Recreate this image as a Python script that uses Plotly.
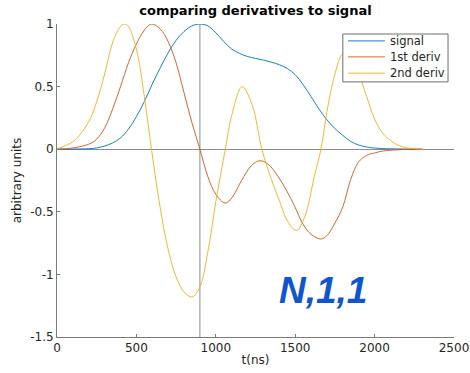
import plotly.graph_objects as go

# ---- data ----
t_signal = [0, 100, 200, 250, 300, 350, 400, 450, 500, 550, 600, 650, 700, 750, 800, 850, 900,
            950, 1000, 1050, 1100, 1150, 1200, 1250, 1300, 1350, 1400, 1450, 1500, 1550, 1600,
            1650, 1700, 1750, 1800, 1850, 1900, 1950, 2000, 2100, 2200, 2300]
signal = [0, 0.001, 0.004, 0.01, 0.025, 0.05, 0.09, 0.16, 0.26, 0.38, 0.52, 0.65, 0.77, 0.87,
          0.94, 0.985, 1.0, 0.985, 0.93, 0.86, 0.8, 0.765, 0.74, 0.725, 0.712, 0.695, 0.675,
          0.645, 0.595, 0.515, 0.42, 0.32, 0.235, 0.165, 0.11, 0.062, 0.033, 0.018, 0.009,
          0.003, 0.001, 0]

t_d1 = [0, 100, 200, 250, 300, 350, 400, 450, 500, 550, 595, 650, 700, 750, 800, 850, 900, 950,
        1000, 1058, 1100, 1162, 1225, 1277, 1330, 1393, 1450, 1498, 1550, 1600, 1662, 1700,
        1750, 1800, 1850, 1900, 1950, 2000, 2050, 2100, 2200, 2300]
deriv1 = [0, 0.01, 0.04, 0.08, 0.17, 0.32, 0.5, 0.69, 0.84, 0.95, 1.0, 0.96, 0.86, 0.69, 0.45,
          0.21, 0, -0.22, -0.36, -0.43, -0.39, -0.25, -0.13, -0.092, -0.12, -0.22, -0.34,
          -0.46, -0.6, -0.68, -0.717, -0.69, -0.59, -0.46, -0.24, -0.1, -0.05, -0.03,
          -0.015, -0.008, -0.002, 0]

t_d2 = [0, 100, 200, 250, 300, 350, 400, 427, 450, 500, 550, 595, 650, 700, 750, 800, 851, 900,
        950, 1000, 1060, 1100, 1166, 1230, 1290, 1350, 1400, 1450, 1508, 1560, 1620, 1662,
        1700, 1750, 1800, 1850, 1900, 1950, 2000, 2050, 2100, 2150, 2200, 2250, 2305]
deriv2 = [0.005, 0.06, 0.22, 0.38, 0.6, 0.85, 0.98, 1.0, 0.98, 0.8, 0.42, 0, -0.47, -0.8, -1.02,
          -1.14, -1.18, -1.1, -0.82, -0.42, 0, 0.27, 0.5, 0.35, 0, -0.24, -0.41, -0.57, -0.65,
          -0.54, -0.22, 0, 0.3, 0.6, 0.76, 0.72, 0.6, 0.42, 0.24, 0.13, 0.07, 0.03, 0.012,
          0.004, 0]

series_names = ["signal", "1st deriv", "2nd deriv"]
marker_t = 900
x_ticks = [0, 500, 1000, 1500, 2000, 2500]
y_ticks = [-1.5, -1, -0.5, 0, 0.5, 1]
y_ticktext = ["-1.5", "-1", "-0.5", "0", "0.5", "1"]
annotation_text = "N,1,1"
annotation_pos = (1674, -1.125)

colors = ["#0072BD", "#D95319", "#EDB120"]
FONT = "DejaVu Sans"
AXIS_COL = "#7a7a7a"

fig = go.Figure()
for (tx, ty), name, c in zip([(t_signal, signal), (t_d1, deriv1), (t_d2, deriv2)], series_names, colors):
    fig.add_trace(go.Scatter(x=tx, y=ty, mode="lines", name=name, showlegend=False,
                             line=dict(color=c, width=0.9, shape="spline", smoothing=1.0)))

fig.add_shape(type="line", xref="x", yref="y", x0=marker_t, x1=marker_t, y0=-1.5, y1=1,
              line=dict(color="#8c8c8c", width=1), layer="below")

fig.add_annotation(x=annotation_pos[0], y=annotation_pos[1], xref="x", yref="y",
                   text="<b><i>" + annotation_text + "</i></b>", showarrow=False,
                   font=dict(family="Liberation Sans", size=37, color="#1155CC"))

# custom legend box (matlab style)
leg_x0, leg_x1, leg_y0, leg_y1 = 0.720, 0.985, 0.815, 0.968
fig.add_shape(type="rect", xref="paper", yref="paper", x0=leg_x0, x1=leg_x1, y0=leg_y0, y1=leg_y1,
              line=dict(color="#6e6e6e", width=1), fillcolor="white", layer="above")
row_y = [0.946, 0.895, 0.843]
for name, c, ry in zip(series_names, colors, row_y):
    fig.add_shape(type="line", xref="paper", yref="paper", x0=0.733, x1=0.826, y0=ry, y1=ry,
                  line=dict(color=c, width=0.9), layer="above")
    fig.add_annotation(x=0.834, y=ry, xref="paper", yref="paper", text=name, showarrow=False,
                       xanchor="left", yanchor="middle",
                       font=dict(family=FONT, size=11.5, color="#262626"))

fig.update_layout(
    width=470, height=373,
    margin=dict(l=57, r=16, t=24, b=36),
    paper_bgcolor="white", plot_bgcolor="white",
    title=dict(text="<b>comparing derivatives to signal</b>", x=0.5, xanchor="center",
               xref="paper", y=1, yref="container", yanchor="top", pad=dict(t=6),
               font=dict(family=FONT, size=13, color="black")),
    font=dict(family=FONT, size=12, color="#262626"),
    showlegend=False,
)
fig.update_xaxes(range=[0, 2500], tickvals=x_ticks, ticks="inside", ticklen=3,
                 tickcolor=AXIS_COL, showline=True, linecolor=AXIS_COL, linewidth=1,
                 showgrid=False, zeroline=False, mirror=False, automargin=False,
                 title=dict(text="t(ns)", standoff=1, font=dict(size=12)))
fig.update_yaxes(range=[-1.5, 1], tickvals=y_ticks, ticktext=y_ticktext, ticks="inside",
                 ticklen=3, tickcolor=AXIS_COL, showline=True, linecolor=AXIS_COL,
                 linewidth=1, showgrid=False, zeroline=True, zerolinecolor="#8c8c8c",
                 zerolinewidth=1, automargin=False,
                 title=dict(text="arbitrary units", standoff=5, font=dict(size=12)))

fig.write_html("out.html")
